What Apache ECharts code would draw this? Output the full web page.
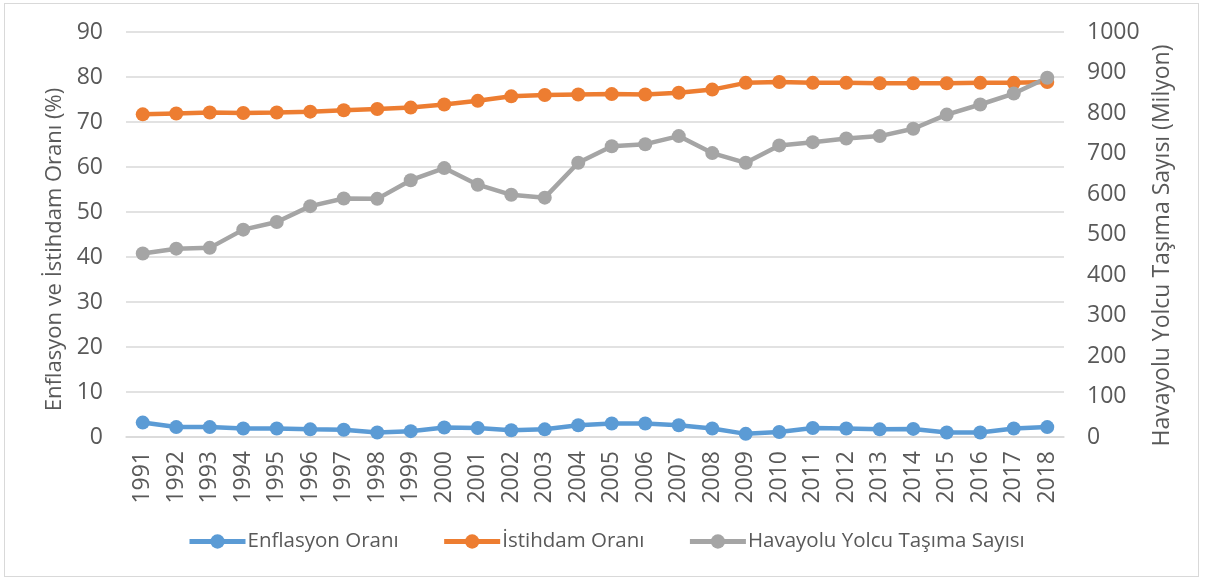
<!DOCTYPE html>
<html>
<head>
<meta charset="utf-8">
<script src="https://cdn.jsdelivr.net/npm/echarts@6/dist/echarts.min.js"></script>
<style>
  html, body { margin: 0; padding: 0; background: #fff; }
  #frame { position: absolute; left: 4px; top: 3px; width: 1195px; height: 574px; border: 1px solid #d9d9d9; box-sizing: border-box; }
  #chart { position: absolute; left: 0; top: 0; width: 1206px; height: 581px; }
</style>
</head>
<body>
<div id="frame"></div>
<div id="chart"></div>
<script>
const years = ['1991','1992','1993','1994','1995','1996','1997','1998','1999','2000','2001','2002','2003','2004','2005','2006','2007','2008','2009','2010','2011','2012','2013','2014','2015','2016','2017','2018'];
const enflasyon = [3.2, 2.2, 2.2, 1.9, 1.9, 1.7, 1.6, 1.0, 1.3, 2.1, 2.0, 1.5, 1.7, 2.6, 3.0, 3.0, 2.6, 1.9, 0.7, 1.1, 2.0, 1.9, 1.7, 1.8, 1.0, 1.0, 1.9, 2.2];
const istihdam = [71.7, 71.9, 72.1, 72.0, 72.1, 72.3, 72.6, 72.9, 73.2, 73.9, 74.7, 75.7, 76.0, 76.1, 76.2, 76.1, 76.5, 77.2, 78.7, 78.9, 78.7, 78.7, 78.6, 78.6, 78.6, 78.7, 78.7, 78.9];
const havayolu = [453, 465, 467, 512, 531, 570, 589, 588, 634, 664, 623, 598, 591, 677, 718, 723, 743, 701, 677, 720, 728, 737, 743, 761, 796, 821, 848, 887];
const seriesNames = ['Enflasyon Oranı', 'İstihdam Oranı', 'Havayolu Yolcu Taşıma Sayısı'];
const leftAxisName = 'Enflasyon ve İstihdam Oranı (%)';
const rightAxisName = 'Havayolu Yolcu Taşıma Sayısı (Milyon)';

const FONT = '"Open Sans", "Noto Sans", sans-serif';
const TXT = '#595959';
const chart = echarts.init(document.getElementById('chart'), null, { renderer: 'canvas' });

function lineSeries(name, data, color, yIndex) {
  return {
    name: name, type: 'line', data: data, yAxisIndex: yIndex,
    symbol: 'circle', symbolSize: 14, showSymbol: true,
    lineStyle: { color: color, width: 4.5 },
    itemStyle: { color: color },
    emphasis: { disabled: true },
    animation: false
  };
}

chart.setOption({
  animation: false,
  textStyle: { fontFamily: FONT },
  grid: { left: 126, right: 142, top: 32, bottom: 144, containLabel: false },
  legend: {
    data: seriesNames,
    left: 182, top: 526,
    itemWidth: 56, itemHeight: 18, itemGap: 43,
    lineStyle: { width: 5 },
    textStyle: { fontFamily: FONT, fontSize: 20.5, color: TXT, padding: [0, 0, 0, -3] }
  },
  xAxis: {
    type: 'category', data: years, boundaryGap: true,
    axisLine: { show: true, lineStyle: { color: '#d9d9d9', width: 1.5 } },
    axisTick: { show: false },
    axisLabel: { rotate: 90, margin: 14, fontSize: 23, color: TXT, fontFamily: FONT, interval: 0 }
  },
  yAxis: [
    {
      type: 'value', min: 0, max: 90, interval: 10, position: 'left',
      name: leftAxisName, nameLocation: 'middle', nameRotate: 90, nameGap: 52,
      nameTextStyle: { fontSize: 22, color: TXT, fontFamily: FONT, padding: [0, 0, 0, -30] },
      axisLine: { show: false }, axisTick: { show: false },
      axisLabel: { fontSize: 23, color: TXT, fontFamily: FONT, margin: 23 },
      splitLine: { show: true, lineStyle: { color: '#d9d9d9', width: 1.5 } }
    },
    {
      type: 'value', min: 0, max: 1000, interval: 100, position: 'right',
      name: rightAxisName, nameLocation: 'middle', nameRotate: 90, nameGap: 82,
      nameTextStyle: { fontSize: 23, color: TXT, fontFamily: FONT, padding: [0, 0, 0, -22] },
      axisLine: { show: false }, axisTick: { show: false },
      axisLabel: { fontSize: 23, color: TXT, fontFamily: FONT, margin: 23, formatter: function (v) { return String(v); } },
      splitLine: { show: false }
    }
  ],
  series: [
    lineSeries(seriesNames[0], enflasyon, '#5B9BD5', 0),
    lineSeries(seriesNames[1], istihdam, '#ED7D31', 0),
    lineSeries(seriesNames[2], havayolu, '#A5A5A5', 1)
  ]
});
</script>
</body>
</html>
